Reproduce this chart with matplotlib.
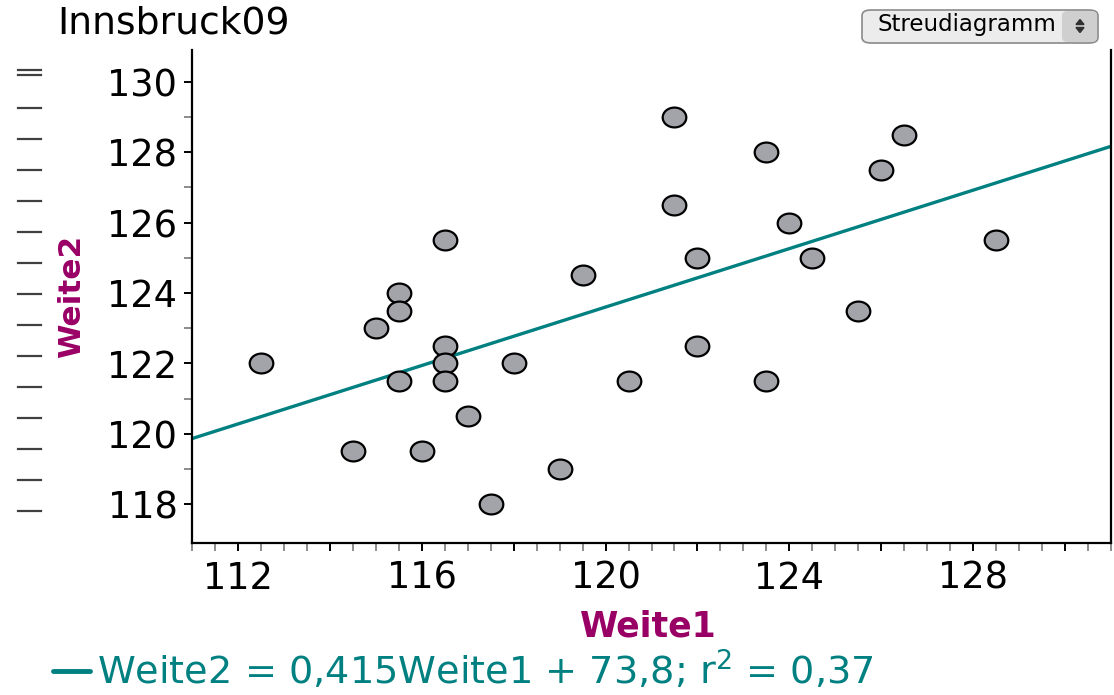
import numpy as np
import matplotlib.pyplot as plt
from matplotlib.lines import Line2D
from matplotlib.patches import FancyBboxPatch, Polygon
from matplotlib.path import Path
from matplotlib.ticker import FixedLocator, FuncFormatter, MultipleLocator

# data (Weite1, Weite2)
weite1 = [112.5, 114.5, 115.0, 115.5, 115.5, 115.5, 116.0, 116.5, 116.5, 116.5,
          116.5, 117.0, 117.5, 118.0, 119.0, 119.5, 120.5, 121.5, 121.5, 122.0,
          122.0, 123.5, 123.5, 124.0, 124.5, 125.5, 126.0, 126.5, 128.5]
weite2 = [122.0, 119.5, 123.0, 124.0, 123.5, 121.5, 119.5, 125.5, 122.5, 122.0,
          121.5, 120.5, 118.0, 122.0, 119.0, 124.5, 121.5, 129.0, 126.5, 125.0,
          122.5, 128.0, 121.5, 126.0, 125.0, 123.5, 127.5, 128.5, 125.5]
slope = 0.415
intercept = 73.8
r2 = 0.37
x_range = (111.0, 131.0)
y_range = (116.9, 130.9)
y_major = [118, 120, 122, 124, 126, 128, 130]
y_minor = [119, 121, 123, 125, 127, 129]
title = "Innsbruck09"
menu_label = "Streudiagramm"

TEAL = "#008080"
MAGENTA = "#990066"

fig = plt.figure(figsize=(11.14, 6.95), dpi=100)
ax = fig.add_axes([192 / 1114, 1 - 543 / 695, 919 / 1114, 493 / 695])

# slightly wide ellipse marker like the original
circ = Path.unit_circle()
ellipse = Path(circ.vertices * np.array([1.0, 0.84]), circ.codes)

xs = np.array(x_range)
ax.plot(xs, slope * xs + intercept, color=TEAL, lw=2.4, zorder=2, solid_capstyle="butt")
ax.plot(weite1, weite2, ls="none", marker=ellipse, ms=17, mfc="#a3a3aa",
        mec="black", mew=1.6, zorder=3, clip_on=False)

ax.set_xlim(*x_range)
ax.set_ylim(*y_range)

ax.spines["top"].set_visible(False)
for s in ("left", "bottom", "right"):
    ax.spines[s].set_linewidth(1.6)
    ax.spines[s].set_color("black")

ax.xaxis.set_major_locator(MultipleLocator(2))
ax.xaxis.set_minor_locator(MultipleLocator(0.5))
ax.xaxis.set_major_formatter(FuncFormatter(lambda v, p: f"{v:.0f}" if round(v) % 4 == 0 else ""))
ax.yaxis.set_major_locator(FixedLocator(y_major))
ax.yaxis.set_minor_locator(FixedLocator(y_minor))
ax.yaxis.set_major_formatter(FuncFormatter(lambda v, p: f"{v:.0f}"))

ax.tick_params(axis="both", which="major", direction="out", length=6, width=1.4,
               color="black", labelsize=26.5)
ax.tick_params(axis="both", which="minor", direction="out", length=6, width=1.4,
               color="#8c8c8c")
ax.tick_params(axis="x", which="major", pad=6)
ax.tick_params(axis="y", which="both", length=5.5)
ax.tick_params(axis="y", which="major", pad=5)

ax.set_xlabel("Weite1", fontsize=25, fontweight="bold", color=MAGENTA)
ax.xaxis.set_label_coords(0.497, -0.135)
ax.xaxis.label.set_va("top")
ax.set_ylabel("Weite2", fontsize=22.5, fontweight="bold", color=MAGENTA)
ax.yaxis.set_label_coords(-0.131, 0.5)
ax.yaxis.label.set_va("center")

# title
fig.text(57 / 1114, 1 - 24 / 695, title, fontsize=27.2, va="center", ha="left")

# regression equation under the plot
fig.add_artist(Line2D([53 / 1114, 90 / 1114], [1 - 671 / 695] * 2, color=TEAL, lw=3.5,
                      solid_capstyle="round"))
eq = f"Weite2 = {slope:.3f}Weite1 + {intercept:.1f}; r$^2$ = {r2:.2f}".replace(".", ",")
fig.text(97 / 1114, 1 - 671 / 695, eq, fontsize=27.5, color=TEAL, va="center", ha="left")

# decorative ruler dashes on the far left
dash_y = [70, 75] + list(np.arange(108, 512, 31.0))
for yy in dash_y:
    fig.add_artist(Line2D([18 / 1114, 41 / 1114], [1 - yy / 695] * 2, color="#404040", lw=1.6))

# dropdown widget top right
box = FancyBboxPatch((862 / 1114, 1 - 43 / 695), 236 / 1114, 33 / 695,
                     boxstyle="round,pad=0,rounding_size=0.008", transform=fig.transFigure,
                     facecolor="#ececec", edgecolor="#8a8a8a", lw=1.2)
fig.add_artist(box)
step = FancyBboxPatch((1062 / 1114, 1 - 42 / 695), 35 / 1114, 31 / 695,
                      boxstyle="round,pad=0,rounding_size=0.006", transform=fig.transFigure,
                      facecolor="#cfcfcf", edgecolor="none")
fig.add_artist(step)
fig.text(967 / 1114, 1 - 25 / 695, menu_label, fontsize=16.5, ha="center", va="center")
cx, cy = 1080 / 1114, 1 - 26 / 695
w, h = 4 / 1114, 5 / 695
fig.add_artist(Polygon([[cx - w, cy + 1.5 / 695], [cx + w, cy + 1.5 / 695], [cx, cy + 1.5 / 695 + h]],
                       closed=True, transform=fig.transFigure, color="#303030"))
fig.add_artist(Polygon([[cx - w, cy - 1.5 / 695], [cx + w, cy - 1.5 / 695], [cx, cy - 1.5 / 695 - h]],
                       closed=True, transform=fig.transFigure, color="#303030"))

fig.savefig("out.png", dpi=100)
